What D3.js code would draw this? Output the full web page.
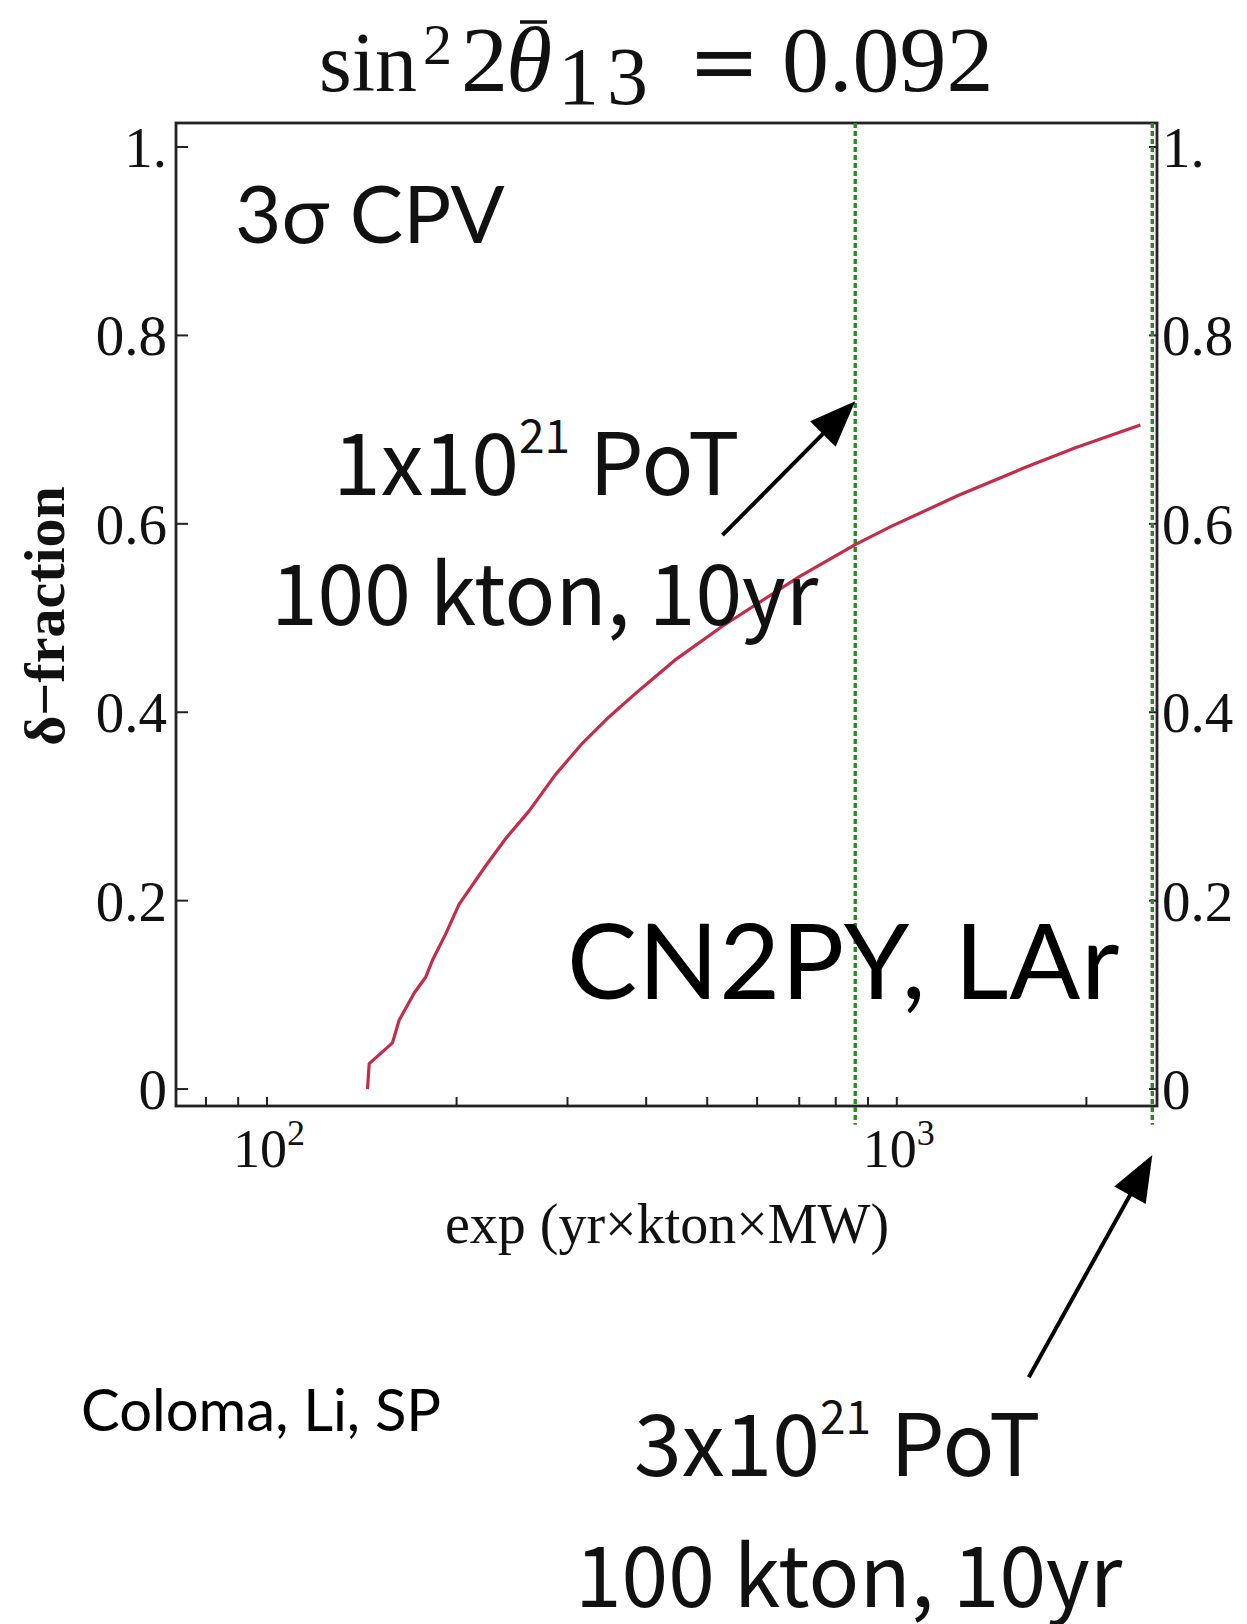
<!DOCTYPE html>
<html>
<head>
<meta charset="utf-8">
<script src="https://cdn.jsdelivr.net/npm/d3@7"></script>
<style>
  html, body { margin: 0; padding: 0; background: #fff; }
  svg { display: block; }
</style>
</head>
<body>
<svg id="chart" width="1247" height="1624"></svg>
<script>
// CP-violation coverage: fraction of delta values reached at 3 sigma vs exposure
const exposure = [144.4, 145.3, 158.2, 162.1, 171.3, 178.7, 183.2, 192.3, 201.8, 222.5,
                  239.4, 260.6, 287.3, 316.7, 349.1, 384.8, 414.0, 443.6, 527.7, 619.2,
                  700.3, 858.8, 977.7, 1251, 1601, 1926, 2436];
const deltaFraction = [0.000, 0.027, 0.049, 0.073, 0.102, 0.119, 0.137, 0.165, 0.196, 0.237,
                       0.266, 0.295, 0.334, 0.367, 0.395, 0.420, 0.438, 0.455, 0.491, 0.521,
                       0.544, 0.578, 0.597, 0.630, 0.660, 0.681, 0.705];

// reference exposures: 1x10^21 PoT and 3x10^21 PoT (100 kton, 10 yr)
const markerExposures = [859, 2545];

// axis ticks
const yTicks = [0, 0.2, 0.4, 0.6, 0.8, 1.0];
const yTickLabels = ["0", "0.2", "0.4", "0.6", "0.8", "1."];
const xTicks = [80, 90, 100, 200, 300, 400, 500, 600, 700, 800, 900, 1000, 2000];
const xTickLabels = [{v: 100, base: "10", exp: "2"}, {v: 1000, base: "10", exp: "3"}];

const svg = d3.select("#chart");

const frame = {left: 176, top: 123, right: 1157, bottom: 1106};

const x = d3.scaleLog().domain([71.7, 2589]).range([frame.left, frame.right]);
const y = d3.scaleLinear().domain([-0.0180, 1.0255]).range([frame.bottom, frame.top]);

const serif = "'Liberation Serif', 'Times New Roman', serif";
const gothic = "'Noto Sans CJK JP', 'Noto Sans', sans-serif";
const humanist = "'Lato', 'Open Sans', sans-serif";

// frame
svg.append("rect")
  .attr("x", frame.left).attr("y", frame.top)
  .attr("width", frame.right - frame.left).attr("height", frame.bottom - frame.top)
  .attr("fill", "none").attr("stroke", "#222").attr("stroke-width", 2.8);

// y ticks (inward) and labels on both sides
const gy = svg.append("g");
yTicks.forEach((v, i) => {
  gy.append("line")
    .attr("x1", frame.left).attr("x2", frame.left + 12)
    .attr("y1", y(v)).attr("y2", y(v))
    .attr("stroke", "#222").attr("stroke-width", 2);
  gy.append("line")
    .attr("x1", frame.right).attr("x2", frame.right - 8)
    .attr("y1", y(v)).attr("y2", y(v))
    .attr("stroke", "#222").attr("stroke-width", 2);
  gy.append("text")
    .attr("x", frame.left - 9).attr("y", y(v) + 20)
    .attr("text-anchor", "end")
    .attr("font-family", serif).attr("font-size", 57)
    .attr("fill", "#111")
    .text(yTickLabels[i]);
  gy.append("text")
    .attr("x", frame.right + 5).attr("y", y(v) + 20)
    .attr("text-anchor", "start")
    .attr("font-family", serif).attr("font-size", 57)
    .attr("fill", "#111")
    .text(yTickLabels[i]);
});

// bottom ticks (inward)
const gx = svg.append("g");
xTicks.forEach(v => {
  gx.append("line")
    .attr("x1", x(v)).attr("x2", x(v))
    .attr("y1", frame.bottom).attr("y2", frame.bottom - 9)
    .attr("stroke", "#222").attr("stroke-width", 2);
});
xTickLabels.forEach(t => {
  const tx = gx.append("text")
    .attr("x", x(t.v) + 2).attr("y", 1167)
    .attr("text-anchor", "middle")
    .attr("font-family", serif).attr("font-size", 54)
    .attr("fill", "#111");
  tx.append("tspan").text(t.base);
  tx.append("tspan").attr("font-size", 36).attr("dy", -22).text(t.exp);
});

// axis titles
svg.append("text")
  .attr("x", 667).attr("y", 1243)
  .attr("text-anchor", "middle")
  .attr("font-family", serif).attr("font-size", 56)
  .attr("fill", "#111")
  .text("exp (yr×kton×MW)");

svg.append("text")
  .attr("transform", "translate(64,616) rotate(-90)")
  .attr("text-anchor", "middle")
  .attr("font-family", serif).attr("font-size", 58).attr("font-weight", "bold")
  .attr("fill", "#111")
  .text("δ−fraction");

// title: sin^2 2θ̄_13 = 0.092
const title = svg.append("text")
  .attr("y", 91)
  .attr("font-family", serif).attr("font-size", 94)
  .attr("fill", "#111");
title.append("tspan").attr("x", 319).attr("font-size", 84).text("sin");
title.append("tspan").attr("x", 423).attr("font-size", 58).attr("dy", -27).text("2");
title.append("tspan").attr("x", 461).attr("dy", 27).text("2");
title.append("tspan").attr("x", 506).attr("font-style", "italic").text("θ");
title.append("tspan").attr("x", 558).attr("font-size", 82).attr("letter-spacing", 8)
  .attr("dy", 13).text("13");
title.append("tspan").attr("x", 688).attr("dy", -13)
  .attr("font-family", "'DejaVu Serif', serif").attr("font-size", 86).attr("font-weight", 300).text("=");
title.append("tspan").attr("x", 782).text("0.092");
// bar over theta
svg.append("line")
  .attr("x1", 520).attr("x2", 547).attr("y1", 22).attr("y2", 22)
  .attr("stroke", "#111").attr("stroke-width", 3.5);

// exposure markers
svg.append("g").selectAll("line").data(markerExposures).join("line")
  .attr("x1", d => x(d)).attr("x2", d => x(d))
  .attr("y1", y(1.0255)).attr("y2", y(-0.038))
  .attr("stroke", "#2a8a1c").attr("stroke-width", 3.4)
  .attr("stroke-dasharray", "5,3");

// curve
const line = d3.line().x((d, i) => x(exposure[i])).y(d => y(d));
svg.append("path")
  .datum(deltaFraction)
  .attr("d", line)
  .attr("fill", "none")
  .attr("stroke", "#c42c4a").attr("stroke-width", 3.2)
  .attr("stroke-linejoin", "round");

// annotation arrows (data coordinates)
const arrows = [
  {from: [528.7, 0.588], to: [markerExposures[0], 0.730]},
  {from: [1620, -0.306], to: [markerExposures[1], -0.070]}
];
arrows.forEach(a => {
  const x0 = x(a.from[0]), y0 = y(a.from[1]);
  const x1 = x(a.to[0]), y1 = y(a.to[1]);
  const dx = x1 - x0, dy = y1 - y0, len = Math.hypot(dx, dy);
  const ux = dx / len, uy = dy / len;
  const headLen = 46, headW = 18;
  const bx = x1 - ux * headLen, by = y1 - uy * headLen;
  svg.append("line")
    .attr("x1", x0).attr("y1", y0).attr("x2", bx + ux * 4).attr("y2", by + uy * 4)
    .attr("stroke", "#000").attr("stroke-width", 4);
  svg.append("polygon")
    .attr("points", [[x1, y1], [bx - uy * headW, by + ux * headW], [bx + uy * headW, by - ux * headW]]
      .map(p => p.join(",")).join(" "))
    .attr("fill", "#000");
});

// text annotations
svg.append("text")
  .attr("x", 235).attr("y", 243)
  .attr("font-family", humanist).attr("font-size", 80)
  .attr("fill", "#111")
  .text("3σ CPV");

function potLabel(px, py, mult) {
  const t = svg.append("text")
    .attr("x", px).attr("y", py)
    .attr("font-family", gothic).attr("font-size", 86)
    .attr("fill", "#111");
  t.append("tspan").text(mult + "x10");
  t.append("tspan").attr("font-size", 46).attr("dy", -42).text("21");
  t.append("tspan").attr("dy", 42).text("\u00a0PoT");
}
potLabel(333, 495, "1");
svg.append("text")
  .attr("x", 271).attr("y", 625)
  .attr("font-family", gothic).attr("font-size", 84)
  .attr("fill", "#111")
  .text("100 kton, 10yr");

svg.append("text")
  .attr("x", 567).attr("y", 999)
  .attr("font-family", humanist).attr("font-size", 105)
  .attr("letter-spacing", 1)
  .attr("fill", "#000")
  .text("CN2PY, LAr");

svg.append("text")
  .attr("x", 81).attr("y", 1431)
  .attr("font-family", humanist).attr("font-size", 58)
  .attr("fill", "#000")
  .text("Coloma, Li, SP");

potLabel(634, 1476, "3");
svg.append("text")
  .attr("x", 575).attr("y", 1607)
  .attr("font-family", gothic).attr("font-size", 84)
  .attr("fill", "#111")
  .text("100 kton, 10yr");
</script>
</body>
</html>
